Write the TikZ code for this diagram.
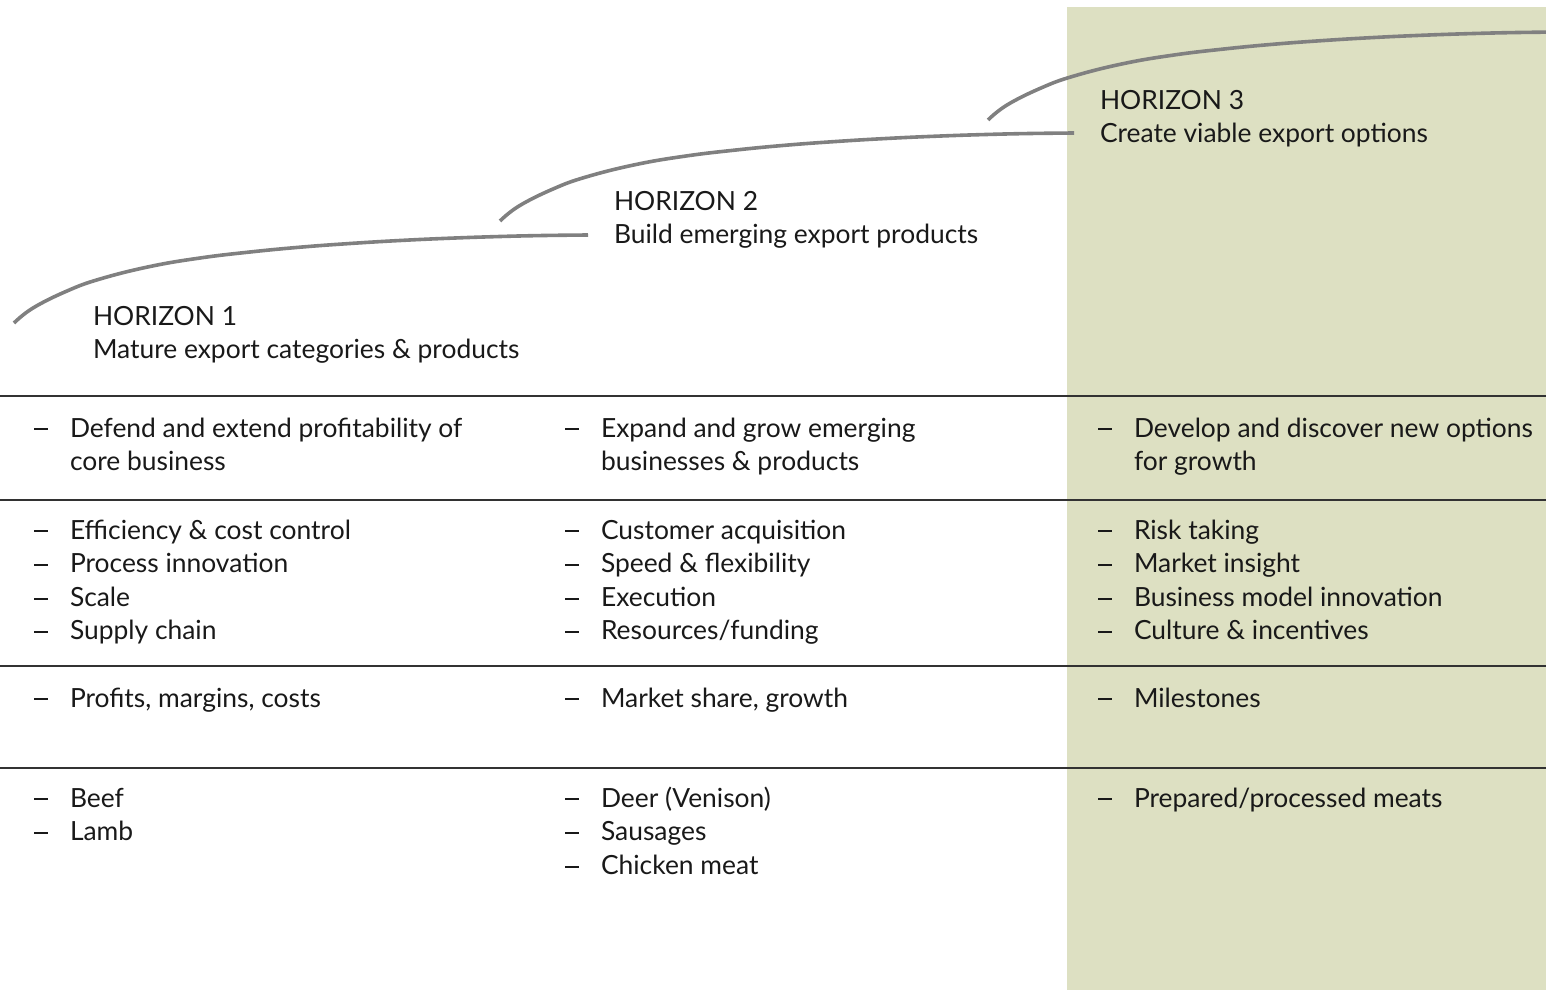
\documentclass[tikz,border=0pt]{standalone}
\usepackage{fontspec}
\setmainfont{Lato}
\usepackage{array}
\definecolor{panelgreen}{RGB}{221,224,194}
\definecolor{arcgray}{RGB}{128,128,128}
\definecolor{rulegray}{RGB}{50,50,50}
\definecolor{txt}{RGB}{25,25,25}
\newcommand{\itemfont}{\fontsize{26.4}{33.6}\selectfont}
\newcommand{\dsh}{\rule[6.6pt]{14pt}{2pt}}
\newcolumntype{D}{@{}p{36pt}@{}}
\begin{document}
\begin{tikzpicture}[x=1pt,y=-1pt,
  arc/.style={draw=arcgray,line width=3.6pt},
  rowrule/.style={draw=rulegray,line width=1.4pt},
  cell/.style={anchor=base west,inner sep=0pt,outer sep=0pt,text=txt,font=\itemfont}]
\useasboundingbox (0,0) rectangle (1546,990);
\fill[panelgreen] (1067,7) rectangle (1546,990);
\begin{scope}
\clip (0,0) rectangle (1546,990);
\foreach \sx/\sy in {14/323, 500/221, 988/120}{
  \begin{scope}[shift={(\sx,\sy)}]
  \draw[arc] plot[smooth,tension=0.7] coordinates {(0,0) (19,-15) (53,-32) (86,-44) (136,-56.5) (186,-65) (236,-71) (286,-75.8) (336,-79.5) (386,-82.5) (436,-84.8) (486,-86.5) (530,-87.5) (574,-88)};
  \end{scope}
}
\end{scope}
\node[cell] (h1) at (93,325) {\begin{tabular}[t]{@{}l@{}}HORIZON 1\\Mature export categories \& products\end{tabular}};
\node[cell] (h2) at (614,210) {\begin{tabular}[t]{@{}l@{}}HORIZON 2\\Build emerging export products\end{tabular}};
\node[cell] (h3) at (1100,109) {\begin{tabular}[t]{@{}l@{}}HORIZON 3\\Create viable export options\end{tabular}};
\coordinate (r1l) at (0,396); \coordinate (r1r) at (1546,396);
\coordinate (r2l) at (0,500); \coordinate (r2r) at (1546,500);
\coordinate (r3l) at (0,666); \coordinate (r3r) at (1546,666);
\coordinate (r4l) at (0,768); \coordinate (r4r) at (1546,768);
\draw[rowrule] (r1l) -- (r1r);
\draw[rowrule] (r2l) -- (r2r);
\draw[rowrule] (r3l) -- (r3r);
\draw[rowrule] (r4l) -- (r4r);
% row 1
\node[cell] (c11) at (34,437) {\begin{tabular}[t]{Dl@{}}\dsh&Defend and extend profitability of\\&core business\end{tabular}};
\node[cell] (c12) at (565,437) {\begin{tabular}[t]{Dl@{}}\dsh&Expand and grow emerging\\&businesses \& products\end{tabular}};
\node[cell] (c13) at (1098,437) {\begin{tabular}[t]{Dl@{}}\dsh&Develop and discover new options\\&for growth\end{tabular}};
% row 2
\node[cell] (c21) at (34,539) {\begin{tabular}[t]{Dl@{}}\dsh&Efficiency \& cost control\\\dsh&Process innovation\\\dsh&Scale\\\dsh&Supply chain\end{tabular}};
\node[cell] (c22) at (565,539) {\begin{tabular}[t]{Dl@{}}\dsh&Customer acquisition\\\dsh&Speed \& flexibility\\\dsh&Execution\\\dsh&Resources/funding\end{tabular}};
\node[cell] (c23) at (1098,539) {\begin{tabular}[t]{Dl@{}}\dsh&Risk taking\\\dsh&Market insight\\\dsh&Business model innovation\\\dsh&Culture \& incentives\end{tabular}};
% row 3
\node[cell] (c31) at (34,707) {\begin{tabular}[t]{Dl@{}}\dsh&Profits, margins, costs\end{tabular}};
\node[cell] (c32) at (565,707) {\begin{tabular}[t]{Dl@{}}\dsh&Market share, growth\end{tabular}};
\node[cell] (c33) at (1098,707) {\begin{tabular}[t]{Dl@{}}\dsh&Milestones\end{tabular}};
% row 4
\node[cell] (c41) at (34,807) {\begin{tabular}[t]{Dl@{}}\dsh&Beef\\\dsh&Lamb\end{tabular}};
\node[cell] (c42) at (565,807) {\begin{tabular}[t]{Dl@{}}\dsh&Deer (Venison)\\\dsh&Sausages\\\dsh&Chicken meat\end{tabular}};
\node[cell] (c43) at (1098,807) {\begin{tabular}[t]{Dl@{}}\dsh&Prepared/processed meats\end{tabular}};
\end{tikzpicture}
\end{document}
